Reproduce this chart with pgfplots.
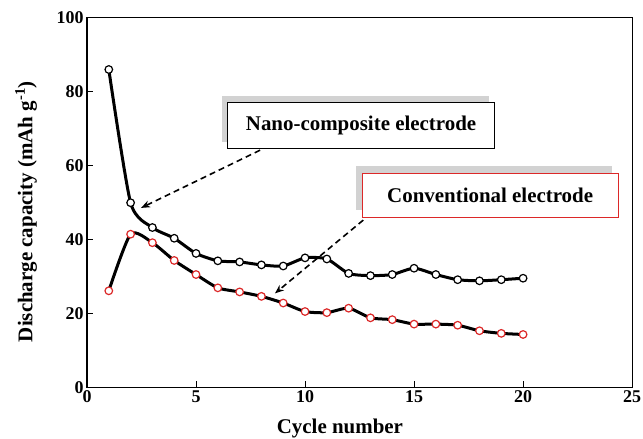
\documentclass[border=0pt]{standalone}
\usepackage{fontspec}
\setmainfont{Liberation Serif}
\usepackage{pgfplots}
\pgfplotsset{compat=1.18}
\usetikzlibrary{arrows.meta}
\definecolor{redmk}{RGB}{220,40,40}
\definecolor{shadowgray}{RGB}{210,210,210}
\begin{document}
\begin{tikzpicture}
\begin{axis}[
  scale only axis,
  width=545bp, height=370bp,
  xmin=0, xmax=25, ymin=0, ymax=100,
  xtick={0,5,10,15,20,25}, ytick={0,20,40,60,80,100},
  tick align=inside, xtick pos=left, ytick pos=left,
  major tick length=6bp,
  axis line style={line width=1.2bp},
  every tick/.style={line width=1bp, black},
  /pgf/number format/assume math mode=true,
  tick label style={font=\fontsize{18}{20}\selectfont\bfseries},
  xlabel={Cycle number},
  ylabel={Discharge capacity (mAh g\textsuperscript{-1})},
  every axis x label/.style={at={(rel axis cs:0.464,0)}, yshift=-41bp, anchor=center,
    font=\fontsize{21}{24}\selectfont\bfseries},
  every axis y label/.style={at={(rel axis cs:0,0.475)}, xshift=-61bp, rotate=90, anchor=center,
    font=\fontsize{21}{24}\selectfont\bfseries},
  clip=false,
]
\addplot[black, line width=3bp, smooth, tension=0.4, mark=*, mark size=3.8bp,
  mark options={fill=white, draw=black, line width=1.2bp}] coordinates {
  (1,85.9) (2,49.9) (3,43.2) (4,40.3) (5,36.2) (6,34.2) (7,33.9) (8,33.1) (9,32.8)
  (10,35.0) (11,34.7) (12,30.8) (13,30.2) (14,30.5) (15,32.2) (16,30.5) (17,29.1)
  (18,28.8) (19,29.1) (20,29.5)};
\addplot[black, line width=3bp, smooth, tension=0.4, mark=*, mark size=3.8bp,
  mark options={fill=white, draw=redmk, line width=1.2bp}] coordinates {
  (1,26.1) (2,41.4) (3,39.1) (4,34.3) (5,30.5) (6,26.9) (7,25.8) (8,24.6) (9,22.8)
  (10,20.5) (11,20.2) (12,21.4) (13,18.8) (14,18.3) (15,17.1) (16,17.1) (17,16.8)
  (18,15.3) (19,14.6) (20,14.3)};
% annotation boxes
\node[fill=shadowgray, minimum width=267bp, minimum height=46bp, inner sep=0pt]
  at (axis cs:12.57,70.8) [xshift=-6bp, yshift=6bp] {};
\node[draw=black, fill=white, line width=1bp, minimum width=267bp, minimum height=46bp,
  inner sep=0pt, font=\fontsize{21}{24}\selectfont\bfseries]
  at (axis cs:12.57,70.8) {Nano-composite electrode};
\node[fill=shadowgray, minimum width=256bp, minimum height=44bp, inner sep=0pt]
  at (axis cs:18.49,51.9) [xshift=-6bp, yshift=7bp] {};
\node[draw=redmk, fill=white, line width=1bp, minimum width=256bp, minimum height=44bp,
  inner sep=0pt, font=\fontsize{21}{24}\selectfont\bfseries]
  at (axis cs:18.49,51.9) {Conventional electrode};
% arrows
\draw[line width=1.6bp, dash pattern=on 6bp off 4bp, -{Stealth[length=9bp,width=7bp]}]
  (axis cs:7.94,64.1) -- (axis cs:2.48,48.5);
\draw[line width=1.6bp, dash pattern=on 6bp off 4bp, -{Stealth[length=9bp,width=7bp]}]
  (axis cs:12.67,45.2) -- (axis cs:8.62,25.4);
\coordinate (BB1) at (axis cs:-3.99,-13.70);
\coordinate (BB2) at (axis cs:25.50,104.68);
\end{axis}
\pgfresetboundingbox
\path (BB1) rectangle (BB2);
\end{tikzpicture}
\end{document}
